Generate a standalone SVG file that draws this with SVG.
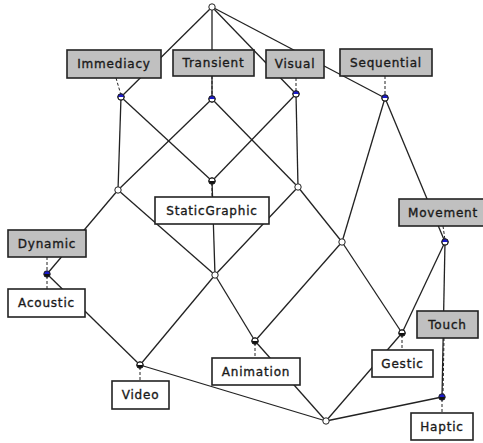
<svg xmlns="http://www.w3.org/2000/svg" width="483" height="443" viewBox="0 0 483 443">
<defs>
<style>
.e{stroke:#222;stroke-width:1.3;fill:none}
.d{stroke:#222;stroke-width:1;fill:none;stroke-dasharray:3,2}
.ga{fill:#c0c0c0;stroke:#222;stroke-width:1.6}
.ob{fill:#fff;stroke:#222;stroke-width:1.6}
.t{font-family:"DejaVu Sans",Verdana,sans-serif;font-size:12px;fill:#1a1a1a;stroke:#1a1a1a;stroke-width:0.35;text-anchor:middle;letter-spacing:0.8px}
.n{fill:#fff;stroke:#222;stroke-width:1}
.o{fill:none;stroke:#222;stroke-width:1}
.bl{fill:#1a1acc}
.bk{fill:#111}
</style>
<clipPath id="top"><rect x="-5" y="-5" width="10" height="5"/></clipPath>
<clipPath id="bot"><rect x="-5" y="0" width="10" height="5"/></clipPath>
</defs>
<g id="connectors">
<line class="e" x1="212" y1="7" x2="121" y2="97"/>
<line class="e" x1="212" y1="7" x2="212" y2="99"/>
<line class="e" x1="212" y1="7" x2="296" y2="94"/>
<line class="e" x1="212" y1="7" x2="385" y2="98"/>
<line class="e" x1="121" y1="97" x2="118" y2="190"/>
<line class="e" x1="121" y1="97" x2="212" y2="181"/>
<line class="e" x1="212" y1="99" x2="118" y2="190"/>
<line class="e" x1="212" y1="99" x2="298" y2="187"/>
<line class="e" x1="296" y1="94" x2="298" y2="187"/>
<line class="e" x1="296" y1="94" x2="212" y2="181"/>
<line class="e" x1="385" y1="98" x2="342" y2="242"/>
<line class="e" x1="385" y1="98" x2="445" y2="242"/>
<line class="e" x1="118" y1="190" x2="47" y2="274"/>
<line class="e" x1="118" y1="190" x2="215" y2="275"/>
<line class="e" x1="212" y1="181" x2="215" y2="275"/>
<line class="e" x1="298" y1="187" x2="215" y2="275"/>
<line class="e" x1="298" y1="187" x2="342" y2="242"/>
<line class="e" x1="342" y1="242" x2="255" y2="341"/>
<line class="e" x1="342" y1="242" x2="402" y2="333"/>
<line class="e" x1="445" y1="242" x2="402" y2="333"/>
<line class="e" x1="445" y1="242" x2="442" y2="397"/>
<line class="e" x1="47" y1="274" x2="140" y2="365"/>
<line class="e" x1="215" y1="275" x2="140" y2="365"/>
<line class="e" x1="215" y1="275" x2="255" y2="341"/>
<line class="e" x1="255" y1="341" x2="326" y2="421"/>
<line class="e" x1="140" y1="365" x2="326" y2="421"/>
<line class="e" x1="402" y1="333" x2="326" y2="421"/>
<line class="e" x1="442" y1="397" x2="326" y2="421"/>
<line class="d" x1="116" y1="78" x2="121" y2="95"/>
<line class="d" x1="212" y1="76" x2="212" y2="97"/>
<line class="d" x1="296" y1="78" x2="296" y2="92"/>
<line class="d" x1="385" y1="76" x2="385" y2="96"/>
<line class="d" x1="443" y1="226" x2="445" y2="240"/>
<line class="d" x1="47" y1="257" x2="47" y2="272"/>
<line class="d" x1="444" y1="338" x2="443" y2="395"/>
<line class="d" x1="47" y1="276" x2="47" y2="289"/>
<line class="d" x1="212" y1="183" x2="212" y2="197"/>
<line class="d" x1="140" y1="367" x2="140" y2="381"/>
<line class="d" x1="255" y1="343" x2="255" y2="358"/>
<line class="d" x1="402" y1="335" x2="402" y2="350"/>
<line class="d" x1="442" y1="399" x2="442" y2="413"/>
</g>
<g id="Immediacy"><rect class="ga" x="67" y="50" width="94" height="28"/><text class="t" x="114" y="68">Immediacy</text></g>
<g id="Transient"><rect class="ga" x="173" y="50" width="81" height="26"/><text class="t" x="213.5" y="67">Transient</text></g>
<g id="Visual"><rect class="ga" x="266" y="50" width="58" height="28"/><text class="t" x="295" y="68">Visual</text></g>
<g id="Sequential"><rect class="ga" x="340" y="49" width="92" height="27"/><text class="t" x="386" y="67">Sequential</text></g>
<g id="StaticGraphic"><rect class="ob" x="155" y="197" width="114" height="27"/><text class="t" x="212" y="215">StaticGraphic</text></g>
<g id="Movement"><rect class="ga" x="399" y="199" width="88" height="27"/><text class="t" x="443" y="217">Movement</text></g>
<g id="Dynamic"><rect class="ga" x="8" y="230" width="78" height="27"/><text class="t" x="47" y="248">Dynamic</text></g>
<g id="Acoustic"><rect class="ob" x="8" y="289" width="77" height="28"/><text class="t" x="46.5" y="307">Acoustic</text></g>
<g id="Touch"><rect class="ga" x="417" y="311" width="61" height="27"/><text class="t" x="447.5" y="329">Touch</text></g>
<g id="Video"><rect class="ob" x="112" y="381" width="57" height="28"/><text class="t" x="140.5" y="399">Video</text></g>
<g id="Animation"><rect class="ob" x="212" y="358" width="88" height="27"/><text class="t" x="256" y="376">Animation</text></g>
<g id="Gestic"><rect class="ob" x="372" y="350" width="61" height="27"/><text class="t" x="402.5" y="368">Gestic</text></g>
<g id="Haptic"><rect class="ob" x="411" y="413" width="62" height="27"/><text class="t" x="442" y="431">Haptic</text></g>
<g id="nodes">
<g id="n-top" transform="translate(212,7)"><circle class="n" r="3.2"/></g>
<g id="n-immediacy" transform="translate(121,97)"><circle class="n" r="3.2"/><circle class="bl" r="3.2" clip-path="url(#top)"/><circle class="o" r="3.2"/></g>
<g id="n-transient" transform="translate(212,99)"><circle class="n" r="3.2"/><circle class="bl" r="3.2" clip-path="url(#top)"/><circle class="o" r="3.2"/></g>
<g id="n-visual" transform="translate(296,94)"><circle class="n" r="3.2"/><circle class="bl" r="3.2" clip-path="url(#top)"/><circle class="o" r="3.2"/></g>
<g id="n-sequential" transform="translate(385,98)"><circle class="n" r="3.2"/><circle class="bl" r="3.2" clip-path="url(#top)"/><circle class="o" r="3.2"/></g>
<g id="n-a" transform="translate(118,190)"><circle class="n" r="3.2"/></g>
<g id="n-static" transform="translate(212,181)"><circle class="n" r="3.2"/><circle class="bk" r="3.2" clip-path="url(#bot)"/><circle class="o" r="3.2"/></g>
<g id="n-b" transform="translate(298,187)"><circle class="n" r="3.2"/></g>
<g id="n-c" transform="translate(342,242)"><circle class="n" r="3.2"/></g>
<g id="n-movement" transform="translate(445,242)"><circle class="n" r="3.2"/><circle class="bl" r="3.2" clip-path="url(#top)"/><circle class="o" r="3.2"/></g>
<g id="n-dynamic" transform="translate(47,274)"><circle class="bl" r="3.2"/><circle class="bk" r="3.2" clip-path="url(#bot)"/><circle class="o" r="3.2"/></g>
<g id="n-d" transform="translate(215,275)"><circle class="n" r="3.2"/></g>
<g id="n-gestic" transform="translate(402,333)"><circle class="n" r="3.2"/><circle class="bk" r="3.2" clip-path="url(#bot)"/><circle class="o" r="3.2"/></g>
<g id="n-animation" transform="translate(255,341)"><circle class="n" r="3.2"/><circle class="bk" r="3.2" clip-path="url(#bot)"/><circle class="o" r="3.2"/></g>
<g id="n-video" transform="translate(140,365)"><circle class="n" r="3.2"/><circle class="bk" r="3.2" clip-path="url(#bot)"/><circle class="o" r="3.2"/></g>
<g id="n-haptic" transform="translate(442,397)"><circle class="bl" r="3.2"/><circle class="bk" r="3.2" clip-path="url(#bot)"/><circle class="o" r="3.2"/></g>
<g id="n-bottom" transform="translate(326,421)"><circle class="n" r="3.2"/></g>
</g>
</svg>
